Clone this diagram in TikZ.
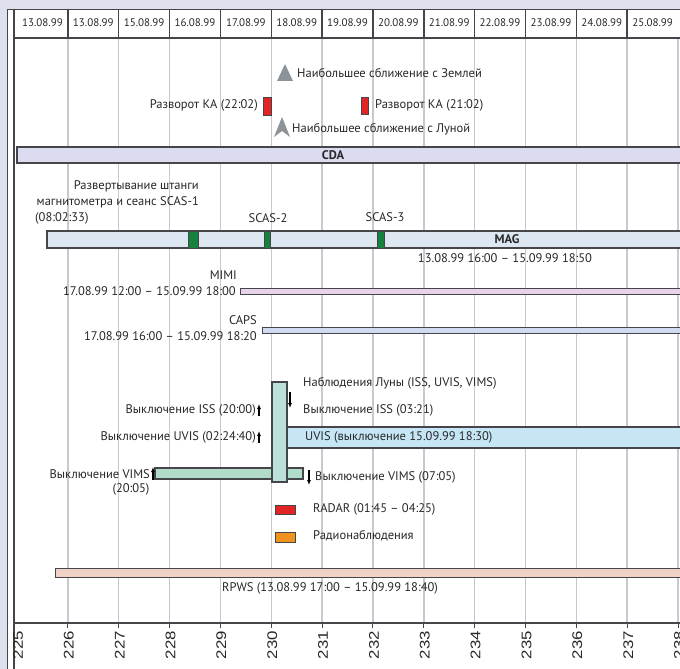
\documentclass[tikz,border=0pt]{standalone}
\usepackage{fontspec}
\setmainfont{PT Sans}
\newfontfamily\axisfont{Liberation Sans}
\usetikzlibrary{arrows.meta}
\definecolor{bgl}{RGB}{222,224,238}
\definecolor{gridc}{RGB}{200,200,208}
\definecolor{framec}{RGB}{70,70,74}
\definecolor{cdac}{RGB}{220,220,240}
\definecolor{magc}{RGB}{221,231,242}
\definecolor{scasc}{RGB}{22,130,62}
\definecolor{redm}{RGB}{226,36,36}
\definecolor{radioc}{RGB}{240,146,32}
\definecolor{mimic}{RGB}{232,212,234}
\definecolor{capsc}{RGB}{210,218,242}
\definecolor{moonc}{RGB}{186,226,218}
\definecolor{uvisc}{RGB}{198,230,246}
\definecolor{vimsc}{RGB}{178,220,202}
\definecolor{rpwsc}{RGB}{240,210,198}
\definecolor{trig}{RGB}{140,148,154}
\definecolor{textc}{RGB}{40,40,40}

\begin{document}
\begin{tikzpicture}[x=1pt,y=-1pt,
    lbl/.style={inner sep=0pt,text=textc,font=\fontsize{12.5}{16}\selectfont},
    hdrtxt/.style={inner sep=0pt,text=textc,font=\fontsize{11}{13}\selectfont},
    bar/.style={draw=framec,line width=1.2pt},
    thinbar/.style={draw=framec,line width=1pt},
    stopbox/.style={draw=framec,line width=0.8pt},
    offarrow/.style={draw=black,line width=1.2pt,-{Latex[length=5pt,width=4pt]}}]
      \useasboundingbox (0,0) rectangle (680,669);
      \clip (0,0) rectangle (680,669);
      \fill[bgl] (0,0) rectangle (680,669);
      \fill[white] (7,9) rectangle (680,669);

      \foreach \k in {1,...,13}
        \draw[gridc,line width=1.5pt] ({17+50.85*\k},38) -- ({17+50.85*\k},623);
      \foreach \k in {1,...,13}
        \draw[framec,line width=1pt] ({17+50.85*\k},623) -- ({17+50.85*\k},628);

      \draw[framec,line width=1pt] (7.5,9) -- (7.5,669);
      \draw[framec,line width=1.5pt] (7,9.5) -- (680,9.5);
      \draw[framec,line width=1.8pt] (14,9) -- (14,669);
      \draw[framec,line width=1.5pt] (14,38) -- (680,38);
      \draw[framec,line width=1.2pt] (14,623) -- (680,623);
      \foreach \k in {1,...,12}
        \draw[framec,line width=1.5pt] ({17+50.85*\k},9) -- ({17+50.85*\k},38);

      \foreach \d [count=\k from 0] in {13.08.99,13.08.99,15.08.99,16.08.99,17.08.99,18.08.99,19.08.99,20.08.99,21.08.99,22.08.99,23.08.99,24.08.99,25.08.99}
        \node[hdrtxt] (day\k) at ({17+50.85*(\k+0.5)},23) {\d};

      \foreach \v [count=\k from 0] in {225,...,238}
        \node[rotate=90,anchor=east,inner sep=0pt,text=textc,font=\axisfont\fontsize{14}{14}\selectfont] (ax\k) at ({18+50.85*\k},631) {\scalebox{1.2}[1]{\v}};

      \fill[trig] (285,64) -- (293,81) -- (277,81) -- cycle;
      \node[lbl,anchor=west] (earth) at (297,73) {Наибольшее сближение с Землей};

      \node[lbl,anchor=east] (turnA) at (258,105) {Разворот КА (22:02)};
      \filldraw[stopbox,fill=redm] (263,97) rectangle (271,115);
      \filldraw[stopbox,fill=redm] (361,97) rectangle (368,114);
      \node[lbl,anchor=west] (turnB) at (375,105) {Разворот КА (21:02)};

      \fill[trig] (282,117) -- (290,137) -- (282,131) -- (274,137) -- cycle;
      \node[lbl,anchor=west] (moon) at (292,129) {Наибольшее сближение с Луной};

      \filldraw[bar,fill=cdac] (17,147) rectangle (684,163);
      \draw[framec,line width=1.8pt] (17,147) -- (684,147);
      \node[lbl,font=\fontsize{12.5}{16}\selectfont\bfseries] (cda) at (333,155) {CDA};

      \node[lbl,align=right,anchor=east] (boom) at (199,194) {Развертывание штанги\\магнитометра и сеанс SCAS-1};
      \node[lbl,anchor=west] (boomt) at (35,218) {(08:02:33)};
      \filldraw[bar,fill=magc] (47,231) rectangle (684,248);
      \filldraw[stopbox,fill=scasc] (188,231) rectangle (198,248);
      \filldraw[stopbox,fill=scasc] (264,231) rectangle (270,248);
      \filldraw[stopbox,fill=scasc] (377,231) rectangle (384,248);
      \node[lbl] (scas2) at (268,218) {SCAS-2};
      \node[lbl] (scas3) at (385,217) {SCAS-3};
      \node[lbl,font=\fontsize{12.5}{16}\selectfont\bfseries] (mag) at (507,239) {MAG};
      \node[lbl] (magt) at (505,258) {13.08.99 16:00 – 15.09.99 18:50};

      \filldraw[thinbar,fill=mimic] (240,288) rectangle (684,294);
      \node[lbl,anchor=east] (mimi) at (237,275) {MIMI};
      \node[lbl,anchor=east] (mimit) at (236,291) {17.08.99 12:00 – 15.09.99 18:00};

      \filldraw[thinbar,fill=capsc] (262,327) rectangle (684,333);
      \node[lbl,anchor=east] (caps) at (257,320) {CAPS};
      \node[lbl,anchor=east] (capst) at (257,336) {17.08.99 16:00 – 15.09.99 18:20};

      \filldraw[bar,fill=vimsc] (155,468) rectangle (303,479);
      \filldraw[bar,fill=uvisc] (287,427) rectangle (684,448);
      \filldraw[bar,fill=moonc] (272,382) rectangle (287,482);

      \node[lbl,anchor=west] (moonobs) at (303,383) {Наблюдения Луны (ISS, UVIS, VIMS)};
      \node[lbl,anchor=east] (issA) at (256,410) {Выключение ISS (20:00)};
      \node[lbl,anchor=west] (issB) at (303,410) {Выключение ISS (03:21)};
      \node[lbl,anchor=east] (uvisA) at (256,437) {Выключение UVIS (02:24:40)};
      \node[lbl,anchor=west] (uvis) at (305,437) {UVIS (выключение 15.09.99 18:30)};
      \node[lbl,anchor=east] (vimsA) at (150,474) {Выключение VIMS};
      \node[lbl] (vimsAt) at (131,489) {(20:05)};
      \node[lbl,anchor=west] (vimsB) at (315,477) {Выключение VIMS (07:05)};

      \draw[offarrow] ([xshift=3pt,yshift=-6pt]issA.east) -- ([xshift=3pt,yshift=6pt]issA.east);
      \draw[offarrow] ([xshift=3pt,yshift=-6pt]uvisA.east) -- ([xshift=3pt,yshift=6pt]uvisA.east);
      \draw[offarrow] ([xshift=3pt,yshift=-6pt]vimsA.east) -- ([xshift=3pt,yshift=7pt]vimsA.east);
      \draw[offarrow] ([xshift=-13pt,yshift=18pt]issB.west) -- ([xshift=-13pt,yshift=2pt]issB.west);
      \draw[offarrow] ([xshift=-6pt,yshift=7pt]vimsB.west) -- ([xshift=-6pt,yshift=-8pt]vimsB.west);

      \filldraw[stopbox,fill=redm] (275,505) rectangle (295,514);
      \node[lbl,anchor=west] (radar) at (313,509) {RADAR (01:45 – 04:25)};
      \filldraw[stopbox,fill=radioc] (275,532) rectangle (295,542);
      \node[lbl,anchor=west] (radio) at (313,536) {Радионаблюдения};

      \filldraw[thinbar,fill=rpwsc] (55,568) rectangle (684,577);
      \node[lbl] (rpws) at (330,588) {RPWS (13.08.99 17:00 – 15.09.99 18:40)};
    \end{tikzpicture}
\end{document}
